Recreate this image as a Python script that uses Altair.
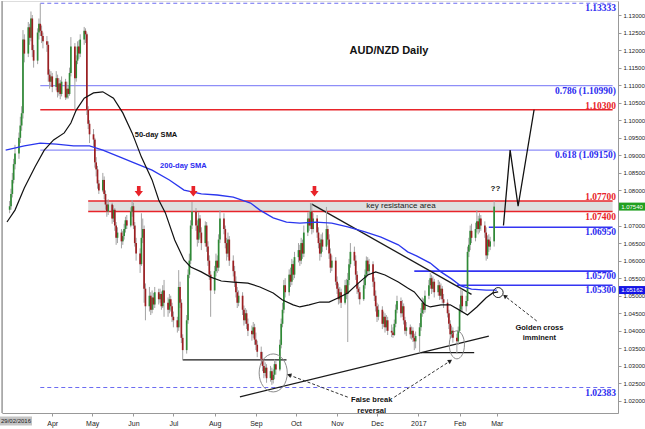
import altair as alt
import pandas as pd

# ---------------------------------------------------------------- candles
# AUD/NZD daily bars, weekdays from 29 Feb 2016 to 27 Feb 2017.
# Each bar opens at the previous close.
FIRST_OPEN = 1.0745

closes = [
    # Mar 2016
    1.0755, 1.0790, 1.0830, 1.0875, 1.0905, 1.0950, 1.0985, 1.1020, 1.1230, 1.1190, 1.1265, 1.1235,
    1.1290, 1.1200, 1.1170, 1.1250, 1.1275, 1.1255, 1.1240, 1.1225, 1.1215, 1.1130, 1.1110, 1.1125,
    # Apr
    1.1095, 1.1120, 1.1080, 1.1105, 1.1075, 1.1110, 1.1065, 1.1090, 1.1075, 1.1135, 1.1210, 1.1120,
    1.1170, 1.1210, 1.1190, 1.1230, 1.1255, 1.1245, 1.1030, 1.0990, 1.0960,
    # May
    1.0945, 1.0880, 1.0860, 1.0820, 1.0800, 1.0830, 1.0790, 1.0760, 1.0740, 1.0760, 1.0720, 1.0745,
    1.0700, 1.0665, 1.0680, 1.0655, 1.0670, 1.0690, 1.0715, 1.0700, 1.0740, 1.0755,
    # Jun
    1.0700, 1.0650, 1.0620, 1.0590, 1.0665, 1.0690, 1.0520, 1.0470, 1.0500, 1.0460, 1.0495, 1.0475,
    1.0510, 1.0490, 1.0505, 1.0470, 1.0515, 1.0480, 1.0460, 1.0490, 1.0470, 1.0440,
    # Jul
    1.0430, 1.0410, 1.0525, 1.0480, 1.0380, 1.0345, 1.0430, 1.0560, 1.0600, 1.0700, 1.0740, 1.0700,
    1.0660, 1.0720, 1.0680, 1.0650, 1.0700, 1.0640, 1.0600, 1.0560, 1.0515,
    # Aug
    1.0570, 1.0600, 1.0580, 1.0660, 1.0720, 1.0690, 1.0650, 1.0620, 1.0660, 1.0600, 1.0570, 1.0540,
    1.0510, 1.0480, 1.0500, 1.0460, 1.0430, 1.0450, 1.0420, 1.0400, 1.0390, 1.0410, 1.0375,
    # Sep
    1.0360, 1.0340, 1.0320, 1.0300, 1.0280, 1.0295, 1.0265, 1.0285, 1.0260, 1.0275, 1.0305, 1.0290,
    1.0360, 1.0420, 1.0460, 1.0530, 1.0510, 1.0560, 1.0540, 1.0590, 1.0560, 1.0610,
    # Oct
    1.0630, 1.0600, 1.0650, 1.0620, 1.0680, 1.0720, 1.0700, 1.0740, 1.0690, 1.0720, 1.0680, 1.0650,
    1.0620, 1.0660, 1.0640, 1.0690, 1.0660, 1.0620, 1.0580, 1.0600, 1.0540,
    # Nov
    1.0520, 1.0490, 1.0510, 1.0480, 1.0530, 1.0505, 1.0545, 1.0590, 1.0625, 1.0600, 1.0560, 1.0520,
    1.0510, 1.0490, 1.0530, 1.0560, 1.0600, 1.0570, 1.0590, 1.0540, 1.0500, 1.0470,
    # Dec
    1.0440, 1.0460, 1.0420, 1.0440, 1.0410, 1.0430, 1.0400, 1.0395, 1.0388, 1.0420, 1.0460, 1.0485,
    1.0450, 1.0470, 1.0430, 1.0400, 1.0410, 1.0390, 1.0400, 1.0380, 1.0370, 1.0385,
    # Jan 2017
    1.0410, 1.0450, 1.0480, 1.0460, 1.0500, 1.0530, 1.0550, 1.0520, 1.0540, 1.0510, 1.0530, 1.0500,
    1.0520, 1.0490, 1.0480, 1.0450, 1.0420, 1.0390, 1.0400, 1.0380, 1.0370, 1.0400,
    # Feb
    1.0460, 1.0500, 1.0470, 1.0485, 1.0625, 1.0645, 1.0685, 1.0665, 1.0690, 1.0712, 1.0690, 1.0720,
    1.0700, 1.0680, 1.0615, 1.0660, 1.0640, 1.0655, 1.0754,
]

highs = [
    1.0770, 1.0805, 1.0850, 1.0890, 1.0930, 1.0965, 1.1010, 1.1040, 1.1257, 1.1245, 1.1280, 1.1275,
    1.1310, 1.1300, 1.1215, 1.1262, 1.1290, 1.1333, 1.1270, 1.1250, 1.1240, 1.1225, 1.1145, 1.1140,
    1.1135, 1.1140, 1.1130, 1.1120, 1.1115, 1.1125, 1.1118, 1.1110, 1.1100, 1.1150, 1.1237, 1.1220,
    1.1185, 1.1225, 1.1228, 1.1245, 1.1266, 1.1262, 1.1250, 1.1040, 1.1000,
    1.0975, 1.0950, 1.0895, 1.0870, 1.0830, 1.0850, 1.0840, 1.0800, 1.0772, 1.0775, 1.0765, 1.0758,
    1.0750, 1.0710, 1.0695, 1.0690, 1.0685, 1.0705, 1.0725, 1.0730, 1.0752, 1.0773,
    1.0765, 1.0710, 1.0665, 1.0635, 1.0735, 1.0720, 1.0700, 1.0535, 1.0525, 1.0510, 1.0515, 1.0508,
    1.0525, 1.0520, 1.0520, 1.0512, 1.0530, 1.0545, 1.0495, 1.0505, 1.0500, 1.0480,
    1.0455, 1.0440, 1.0573, 1.0540, 1.0490, 1.0390, 1.0445, 1.0575, 1.0620, 1.0715, 1.0767, 1.0750,
    1.0715, 1.0738, 1.0730, 1.0695, 1.0712, 1.0710, 1.0655, 1.0615, 1.0570,
    1.0585, 1.0620, 1.0615, 1.0675, 1.0744, 1.0735, 1.0700, 1.0665, 1.0680, 1.0670, 1.0615, 1.0585,
    1.0555, 1.0525, 1.0515, 1.0510, 1.0472, 1.0465, 1.0460, 1.0435, 1.0415, 1.0425, 1.0420,
    1.0395, 1.0372, 1.0355, 1.0340, 1.0315, 1.0310, 1.0305, 1.0300, 1.0295, 1.0290, 1.0318, 1.0315,
    1.0375, 1.0435, 1.0480, 1.0545, 1.0550, 1.0575, 1.0580, 1.0605, 1.0600, 1.0625,
    1.0650, 1.0645, 1.0665, 1.0660, 1.0700, 1.0738, 1.0740, 1.0764, 1.0764, 1.0735, 1.0730, 1.0695,
    1.0665, 1.0675, 1.0680, 1.0753, 1.0700, 1.0675, 1.0635, 1.0615, 1.0610,
    1.0555, 1.0535, 1.0525, 1.0520, 1.0545, 1.0548, 1.0565, 1.0605, 1.0650, 1.0640, 1.0615, 1.0570,
    1.0535, 1.0525, 1.0545, 1.0575, 1.0612, 1.0610, 1.0605, 1.0598, 1.0552, 1.0515,
    1.0480, 1.0475, 1.0470, 1.0455, 1.0450, 1.0445, 1.0440, 1.0418, 1.0410, 1.0432, 1.0475, 1.0500,
    1.0495, 1.0488, 1.0478, 1.0440, 1.0425, 1.0418, 1.0412, 1.0410, 1.0392, 1.0398,
    1.0422, 1.0465, 1.0495, 1.0492, 1.0515, 1.0545, 1.0565, 1.0560, 1.0555, 1.0548, 1.0545, 1.0540,
    1.0535, 1.0528, 1.0505, 1.0490, 1.0460, 1.0430, 1.0415, 1.0410, 1.0392, 1.0412,
    1.0475, 1.0520, 1.0515, 1.0500, 1.0640, 1.0665, 1.0700, 1.0705, 1.0708, 1.0744, 1.0728, 1.0735,
    1.0730, 1.0712, 1.0695, 1.0672, 1.0675, 1.0668, 1.0770,
]

lows = [
    1.0735, 1.0745, 1.0780, 1.0820, 1.0860, 1.0890, 1.0935, 1.0970, 1.1005, 1.1165, 1.1180, 1.1215,
    1.1225, 1.1180, 1.1150, 1.1160, 1.1230, 1.1240, 1.1220, 1.1205, 1.1195, 1.1110, 1.1090, 1.1095,
    1.1080, 1.1085, 1.1065, 1.1070, 1.1060, 1.1068, 1.1058, 1.1060, 1.1062, 1.1070, 1.1125, 1.1030,
    1.1110, 1.1160, 1.1175, 1.1180, 1.1215, 1.1220, 1.1015, 1.0975, 1.0935,
    1.0925, 1.0865, 1.0840, 1.0805, 1.0790, 1.0795, 1.0775, 1.0745, 1.0725, 1.0730, 1.0705, 1.0710,
    1.0685, 1.0645, 1.0650, 1.0635, 1.0645, 1.0660, 1.0680, 1.0690, 1.0695, 1.0725,
    1.0690, 1.0640, 1.0600, 1.0565, 1.0585, 1.0650, 1.0480, 1.0430, 1.0455, 1.0445, 1.0450, 1.0460,
    1.0465, 1.0475, 1.0480, 1.0460, 1.0465, 1.0440, 1.0440, 1.0450, 1.0455, 1.0425,
    1.0410, 1.0395, 1.0400, 1.0465, 1.0365, 1.0317, 1.0335, 1.0420, 1.0550, 1.0590, 1.0690, 1.0685,
    1.0640, 1.0650, 1.0665, 1.0630, 1.0640, 1.0625, 1.0585, 1.0545, 1.0440,
    1.0505, 1.0555, 1.0565, 1.0570, 1.0650, 1.0675, 1.0635, 1.0600, 1.0610, 1.0585, 1.0555, 1.0525,
    1.0495, 1.0465, 1.0470, 1.0445, 1.0415, 1.0420, 1.0405, 1.0385, 1.0372, 1.0380, 1.0360,
    1.0345, 1.0325, 1.0305, 1.0285, 1.0265, 1.0270, 1.0252, 1.0255, 1.0246, 1.0250, 1.0262, 1.0275,
    1.0285, 1.0350, 1.0410, 1.0450, 1.0495, 1.0500, 1.0525, 1.0530, 1.0545, 1.0550,
    1.0595, 1.0585, 1.0590, 1.0605, 1.0610, 1.0670, 1.0685, 1.0690, 1.0675, 1.0680, 1.0665, 1.0635,
    1.0600, 1.0610, 1.0625, 1.0630, 1.0645, 1.0605, 1.0565, 1.0570, 1.0530,
    1.0505, 1.0475, 1.0478, 1.0465, 1.0475, 1.0490, 1.0368, 1.0530, 1.0580, 1.0585, 1.0545, 1.0505,
    1.0490, 1.0475, 1.0485, 1.0520, 1.0550, 1.0555, 1.0560, 1.0525, 1.0485, 1.0455,
    1.0425, 1.0430, 1.0405, 1.0410, 1.0395, 1.0400, 1.0388, 1.0382, 1.0380, 1.0385, 1.0410, 1.0450,
    1.0438, 1.0440, 1.0418, 1.0390, 1.0385, 1.0378, 1.0375, 1.0368, 1.0345, 1.0350,
    1.0338, 1.0400, 1.0440, 1.0448, 1.0452, 1.0490, 1.0520, 1.0505, 1.0510, 1.0495, 1.0500, 1.0488,
    1.0490, 1.0478, 1.0465, 1.0438, 1.0405, 1.0378, 1.0380, 1.0366, 1.0335, 1.0360,
    1.0395, 1.0450, 1.0455, 1.0455, 1.0470, 1.0610, 1.0630, 1.0650, 1.0655, 1.0680, 1.0675, 1.0680,
    1.0685, 1.0665, 1.0600, 1.0605, 1.0625, 1.0630, 1.0640,
]

# ---------------------------------------------------------------- moving averages
sma50_dates = [
    "2016-02-27", "2016-03-04", "2016-03-11", "2016-03-19", "2016-03-26", "2016-04-02", "2016-04-10",
    "2016-04-15", "2016-04-19", "2016-04-25", "2016-05-02", "2016-05-09", "2016-05-17", "2016-05-24",
    "2016-05-31", "2016-06-07", "2016-06-15", "2016-06-20", "2016-06-25", "2016-07-02", "2016-07-09",
    "2016-07-14", "2016-07-22", "2016-07-29", "2016-08-06", "2016-08-15", "2016-08-26", "2016-09-04",
    "2016-09-14", "2016-09-21", "2016-09-29", "2016-10-04", "2016-10-11", "2016-10-19", "2016-10-26",
    "2016-11-02", "2016-11-09", "2016-11-17", "2016-11-24", "2016-11-30", "2016-12-07", "2016-12-17",
    "2016-12-24", "2016-12-29", "2017-01-06", "2017-01-10", "2017-01-18", "2017-01-25", "2017-02-01",
    "2017-02-07", "2017-02-14", "2017-02-21", "2017-02-26", "2017-03-02",
]
sma50_values = [
    1.0710, 1.0744, 1.0807, 1.0867, 1.0915, 1.0944, 1.0964, 1.0992, 1.1029, 1.1063, 1.1078, 1.1081,
    1.1063, 1.1021, 1.0964, 1.0895, 1.0830, 1.0773, 1.0736, 1.0659, 1.0602, 1.0582, 1.0568, 1.0553,
    1.0542, 1.0539, 1.0536, 1.0525, 1.0508, 1.0488, 1.0474, 1.0468, 1.0474, 1.0482, 1.0482, 1.0494,
    1.0508, 1.0536, 1.0559, 1.0568, 1.0559, 1.0539, 1.0522, 1.0511, 1.0474, 1.0468, 1.0474, 1.0474,
    1.0459, 1.0445, 1.0468, 1.0494, 1.0508, 1.0511,
]

sma200_dates = [
    "2016-02-26", "2016-03-11", "2016-03-23", "2016-04-04", "2016-04-17", "2016-04-29", "2016-05-09",
    "2016-05-22", "2016-06-02", "2016-06-15", "2016-06-28", "2016-07-09", "2016-07-22", "2016-08-03",
    "2016-08-15", "2016-08-28", "2016-09-04", "2016-09-14", "2016-09-24", "2016-10-04", "2016-10-16",
    "2016-10-28", "2016-11-09", "2016-11-22", "2016-12-04", "2016-12-17", "2016-12-24", "2016-12-31",
    "2017-01-10", "2017-01-18", "2017-01-26", "2017-02-02", "2017-02-10", "2017-02-21", "2017-03-01",
]
sma200_values = [
    1.0915, 1.0927, 1.0935, 1.0932, 1.0927, 1.0927, 1.0915, 1.0895, 1.0878, 1.0858, 1.0830, 1.0801,
    1.0790, 1.0787, 1.0781, 1.0764, 1.0744, 1.0722, 1.0710, 1.0707, 1.0710, 1.0707, 1.0696, 1.0682,
    1.0667, 1.0645, 1.0625, 1.0613, 1.0593, 1.0568, 1.0548, 1.0528, 1.0519, 1.0516, 1.0516,
]
SMA200_LAST = 1.05162

# ---------------------------------------------------------------- horizontal levels
RIGHT_END = "2017-05-27"
range_prices = [1.13333, 1.02383]                     # dashed range extremes
range_starts = ["2016-03-23", "2016-03-23"]
fib_prices = [1.10990, 1.09150]
fib_labels = ["0.786 (1.10990)", "0.618 (1.09150)"]
fib_starts = ["2016-03-23", "2016-03-23"]
red_prices = [1.10300, 1.07700, 1.07400]
red_starts = ["2016-03-23", "2016-04-28", "2016-04-28"]
blue_prices = [1.06950, 1.05700, 1.05300]
blue_starts = ["2017-02-23", "2016-12-29", "2017-01-30"]
BAND_LOW, BAND_HIGH, BAND_START = 1.0740, 1.0770, "2016-04-28"

# trend / support lines: (start date, start price, end date, end price)
trend_lines = [
    ("2016-10-13", 1.0761, "2017-02-10", 1.0504),
    ("2016-08-20", 1.0212, "2017-02-23", 1.0385),
    ("2016-07-08", 1.0317, "2016-09-24", 1.0317),
    ("2017-01-03", 1.0338, "2017-02-12", 1.0338),
]
# projected path after the breakout
proj_dates = ["2017-03-06", "2017-03-11", "2017-03-17", "2017-03-29"]
proj_prices = [1.0700, 1.0915, 1.0755, 1.1030]

# dashed pointers from the notes to the marked spots
pointer_lines = [
    ("2016-11-09", 1.0211, "2016-09-26", 1.0274),
    ("2016-12-14", 1.0211, "2017-01-25", 1.0314),
    ("2017-03-31", 1.0428, "2017-03-07", 1.0499),
]
pointer_head_angles = [290, 57, 308]

peak_dates = ["2016-06-05", "2016-07-16", "2016-10-15"]
peak_marker_price = 1.0798

# right-axis tick labels (1.075 sits under the last-price flag)
price_ticks = [1.020, 1.025, 1.030, 1.035, 1.040, 1.045, 1.050, 1.055, 1.060, 1.065, 1.070,
               1.080, 1.085, 1.090, 1.095, 1.100, 1.105, 1.110, 1.115, 1.120, 1.125, 1.130]

# ---------------------------------------------------------------- colours / layout
GREEN, RED_BAR, WICK = "#2f8a36", "#9c1f22", "#a3a3a3"
LINE_RED, LINE_BLUE, FIB_BLUE, TXT_BLUE = "#e8242a", "#3434f2", "#8e8ef8", "#2b2bf0"
W, H = 616, 412

X_SCALE = alt.Scale(type="utc", domain=[alt.DateTime(year=2016, month=2, date=27, utc=True),
                                        alt.DateTime(year=2017, month=5, date=27, hours=7, utc=True)])
Y_SCALE = alt.Scale(domain=[1.01658, 1.13399], nice=False, zero=False)

month_ticks = [alt.DateTime(year=2016, month=m, date=1, utc=True) for m in range(4, 13)] + \
              [alt.DateTime(year=2017, month=m, date=1, utc=True) for m in range(1, 4)]

X_AXIS = alt.Axis(values=month_ticks, title=None, grid=False, labelFontSize=7, labelColor="#222",
                  tickSize=3, tickColor="#999", domainColor="#999", labelPadding=3, labelOverlap=False,
                  labelExpr="utcFormat(datum.value, '%m') == '01' ? utcFormat(datum.value, '%Y') : utcFormat(datum.value, '%b')")
Y_AXIS = alt.Axis(orient="right", values=price_ticks, format=".5f", title=None, grid=False,
                  labelFontSize=6, labelColor="#222", tickSize=3, tickColor="#999",
                  domainColor="#999", labelPadding=2, labelOverlap=False, labelFlush=False)


def X(field):
    return alt.X(f"{field}:T", scale=X_SCALE, axis=X_AXIS)


def Y(field):
    return alt.Y(f"{field}:Q", scale=Y_SCALE, axis=Y_AXIS)


# ---------------------------------------------------------------- data frames
days = pd.bdate_range("2016-02-29", periods=len(closes))
opens = [FIRST_OPEN] + closes[:-1]
candles = pd.DataFrame({
    "date": days.strftime("%Y-%m-%d"),
    "open": opens, "high": highs, "low": lows, "close": closes,
    "dir": ["up" if c >= o else "down" for o, c in zip(opens, closes)],
})


def frame(**cols):
    return pd.DataFrame(cols)


# resistance band
band = alt.Chart(frame(date=[BAND_START], end=[RIGHT_END], price=[BAND_LOW], top=[BAND_HIGH])).mark_rect(
    color="#dedede").encode(x=X("date"), x2="end:T", y=Y("price"), y2="top:Q")


def levels(prices, starts, color, width, dash=None):
    kw = dict(color=color, strokeWidth=width)
    if dash:
        kw["strokeDash"] = dash
    return alt.Chart(frame(date=starts, end=[RIGHT_END] * len(prices), price=prices)).mark_rule(**kw).encode(
        x=X("date"), x2="end:T", y=Y("price"))


def level_labels(texts, prices, color, dy):
    return alt.Chart(frame(price=prices, t=texts)).mark_text(
        align="right", baseline="middle", dy=dy, font="Liberation Serif", fontWeight="bold",
        fontSize=9.5, color=color).encode(x=alt.value(W - 2), y=Y("price"), text="t:N")


range_lines = levels(range_prices, range_starts, "#6c6cf2", 1.1, [4, 3])
fib_lines = levels(fib_prices, fib_starts, FIB_BLUE, 1.2)
red_lines = levels(red_prices, red_starts, LINE_RED, 1.6)
blue_lines = levels(blue_prices, blue_starts, LINE_BLUE, 1.6)

fmt = lambda v: f"{v:.5f}"
labels = [
    level_labels([fmt(p) for p in range_prices], range_prices, TXT_BLUE, 5),
    level_labels(fib_labels, fib_prices, TXT_BLUE, 5),
    level_labels([fmt(p) for p in blue_prices], blue_prices, TXT_BLUE, 5),
    level_labels([fmt(p) for p in red_prices[:2]], red_prices[:2], LINE_RED, -4),
    level_labels([fmt(red_prices[2])], red_prices[2:], LINE_RED, 5),
]

trend_df = frame(date=[t[0] for t in trend_lines], price=[t[1] for t in trend_lines],
                 end=[t[2] for t in trend_lines], endp=[t[3] for t in trend_lines])
trends = alt.Chart(trend_df).mark_rule(color="#1a1a1a", strokeWidth=1.3).encode(
    x=X("date"), x2="end:T", y=Y("price"), y2="endp:Q")

# candles
wicks = alt.Chart(candles).mark_rule(color=WICK, strokeWidth=1).encode(x=X("date"), y=Y("low"), y2="high:Q")
bodies_up = alt.Chart(candles).transform_filter("datum.dir == 'up'").mark_bar(size=1.7, color=GREEN).encode(
    x=X("date"), y=Y("open"), y2="close:Q")
bodies_down = alt.Chart(candles).transform_filter("datum.dir == 'down'").mark_bar(size=1.7, color=RED_BAR).encode(
    x=X("date"), y=Y("open"), y2="close:Q")

sma200 = alt.Chart(frame(date=sma200_dates, price=sma200_values)).mark_line(
    color="#2a36ee", strokeWidth=1.3).encode(x=X("date"), y=Y("price"))
sma50 = alt.Chart(frame(date=sma50_dates, price=sma50_values)).mark_line(
    color="#111", strokeWidth=1.2).encode(x=X("date"), y=Y("price"))

projection = alt.Chart(frame(date=proj_dates, price=proj_prices)).mark_line(
    color="#111", strokeWidth=1.3).encode(x=X("date"), y=Y("price"))

ARROW = "M-0.35,-1 L0.35,-1 L0.35,-0.05 L0.8,-0.05 L0,1 L-0.8,-0.05 L-0.35,-0.05 Z"
peaks = alt.Chart(frame(date=peak_dates, price=[peak_marker_price] * 3)).mark_point(
    shape=ARROW, filled=True, color="#e8242a", size=110, opacity=1).encode(x=X("date"), y=Y("price"))


def ellipse(rx):
    k = 0.5523
    return (f"M{rx},0 C{rx},{k} {k*rx:.4f},1 0,1 C{-k*rx:.4f},1 {-rx},{k} {-rx},0 "
            f"C{-rx},{-k} {-k*rx:.4f},-1 0,-1 C{k*rx:.4f},-1 {rx},{-k} {rx},0 Z")


ring_sep = alt.Chart(frame(date=["2016-09-14"], price=[1.0280])).mark_point(
    shape=ellipse(0.74), filled=False, color="#8a8a8a", strokeWidth=1, size=38 * 38, opacity=1).encode(
    x=X("date"), y=Y("price"))
ring_jan = alt.Chart(frame(date=["2017-01-30"], price=[1.0360])).mark_point(
    shape=ellipse(0.54), filled=False, color="#8a8a8a", strokeWidth=1, size=28 * 28, opacity=1).encode(
    x=X("date"), y=Y("price"))
ring_cross = alt.Chart(frame(date=["2017-03-02"], price=[1.0509])).mark_point(
    shape="circle", filled=False, color="#222", strokeWidth=1, size=100, opacity=1).encode(
    x=X("date"), y=Y("price"))

ptr_df = frame(date=[p[0] for p in pointer_lines], price=[p[1] for p in pointer_lines],
               end=[p[2] for p in pointer_lines], endp=[p[3] for p in pointer_lines])
pointers = alt.Chart(ptr_df).mark_rule(color="#333", strokeWidth=1, strokeDash=[3, 2]).encode(
    x=X("date"), x2="end:T", y=Y("price"), y2="endp:Q")
heads = [
    alt.Chart(frame(date=[p[2]], price=[p[3]])).mark_point(
        shape="triangle-up", filled=True, color="#222", size=24, angle=ang, opacity=1).encode(
        x=X("date"), y=Y("price"))
    for p, ang in zip(pointer_lines, pointer_head_angles)
]


def note(text, date, price, align="center", size=7.5, weight="bold", color="#111"):
    return alt.Chart(frame(date=[date], price=[price], t=[text])).mark_text(
        align=align, baseline="middle", fontSize=size, fontWeight=weight, color=color,
        font="Liberation Sans").encode(x=X("date"), y=Y("price"), text="t:N")


notes = [
    note("AUD/NZD Daily", "2016-12-10", 1.1197, size=11),
    note("50-day SMA", "2016-06-02", 1.0958, align="left"),
    note("200-day SMA", "2016-06-21", 1.0870, align="left", color=TXT_BLUE),
    note("key resistance area", "2016-12-19", 1.0755, size=8, weight="normal", color="#222"),
    note("??", "2017-02-28", 1.0804, size=8),
    note("False break", "2016-11-27", 1.0203),
    note("reversal", "2016-11-27", 1.0171),
    note("Golden cross", "2017-04-02", 1.0408),
    note("imminent", "2017-04-02", 1.0380),
]


# price flags on the right axis
def flag(value, fill):
    df = frame(price=[value], t=[fmt(value)])
    box = alt.Chart(df).mark_tick(orient="horizontal", size=26, thickness=8, opacity=1, color=fill).encode(
        x=alt.value(W + 14), y=Y("price"))
    txt = alt.Chart(df).mark_text(fontSize=6, color="white", baseline="middle",
                                  font="Liberation Sans").encode(x=alt.value(W + 14), y=Y("price"), text="t:N")
    return [box, txt]


flags = flag(closes[-1], "#21a021") + flag(SMA200_LAST, "#1414e6")

# cursor date stub at the bottom-left corner
stub_box = alt.Chart(frame(t=["29/02/2016"])).mark_tick(orient="horizontal", size=32, thickness=9,
                                                       color="#c4c4c4", opacity=1).encode(
    x=alt.value(14), y=alt.value(H + 8))
stub_text = alt.Chart(frame(t=["29/02/2016"])).mark_text(align="center", baseline="middle", fontSize=6,
                                                        color="#222", font="Liberation Sans").encode(
    x=alt.value(14), y=alt.value(H + 8), text="t:N")

left_edge = alt.Chart(frame(t=[0])).mark_rule(color="#777", strokeWidth=1).encode(
    x=alt.value(0), y=alt.value(0), y2=alt.value(H))

chart = alt.layer(
    band, range_lines, fib_lines, red_lines, blue_lines, *labels, trends, wicks, bodies_up, bodies_down,
    sma200, sma50, projection, peaks, ring_sep, ring_jan, ring_cross, pointers, *heads, *notes,
    *flags, stub_box, stub_text, left_edge,
).properties(
    width=W, height=H,
    autosize=alt.AutoSizeParams(type="none"),
    padding={"left": 2, "top": 1, "right": 27, "bottom": 16},
    background="white",
).configure_view(stroke=None).configure(font="Liberation Sans")

chart.save("out.html", embed_options={"renderer": "svg", "actions": False})
